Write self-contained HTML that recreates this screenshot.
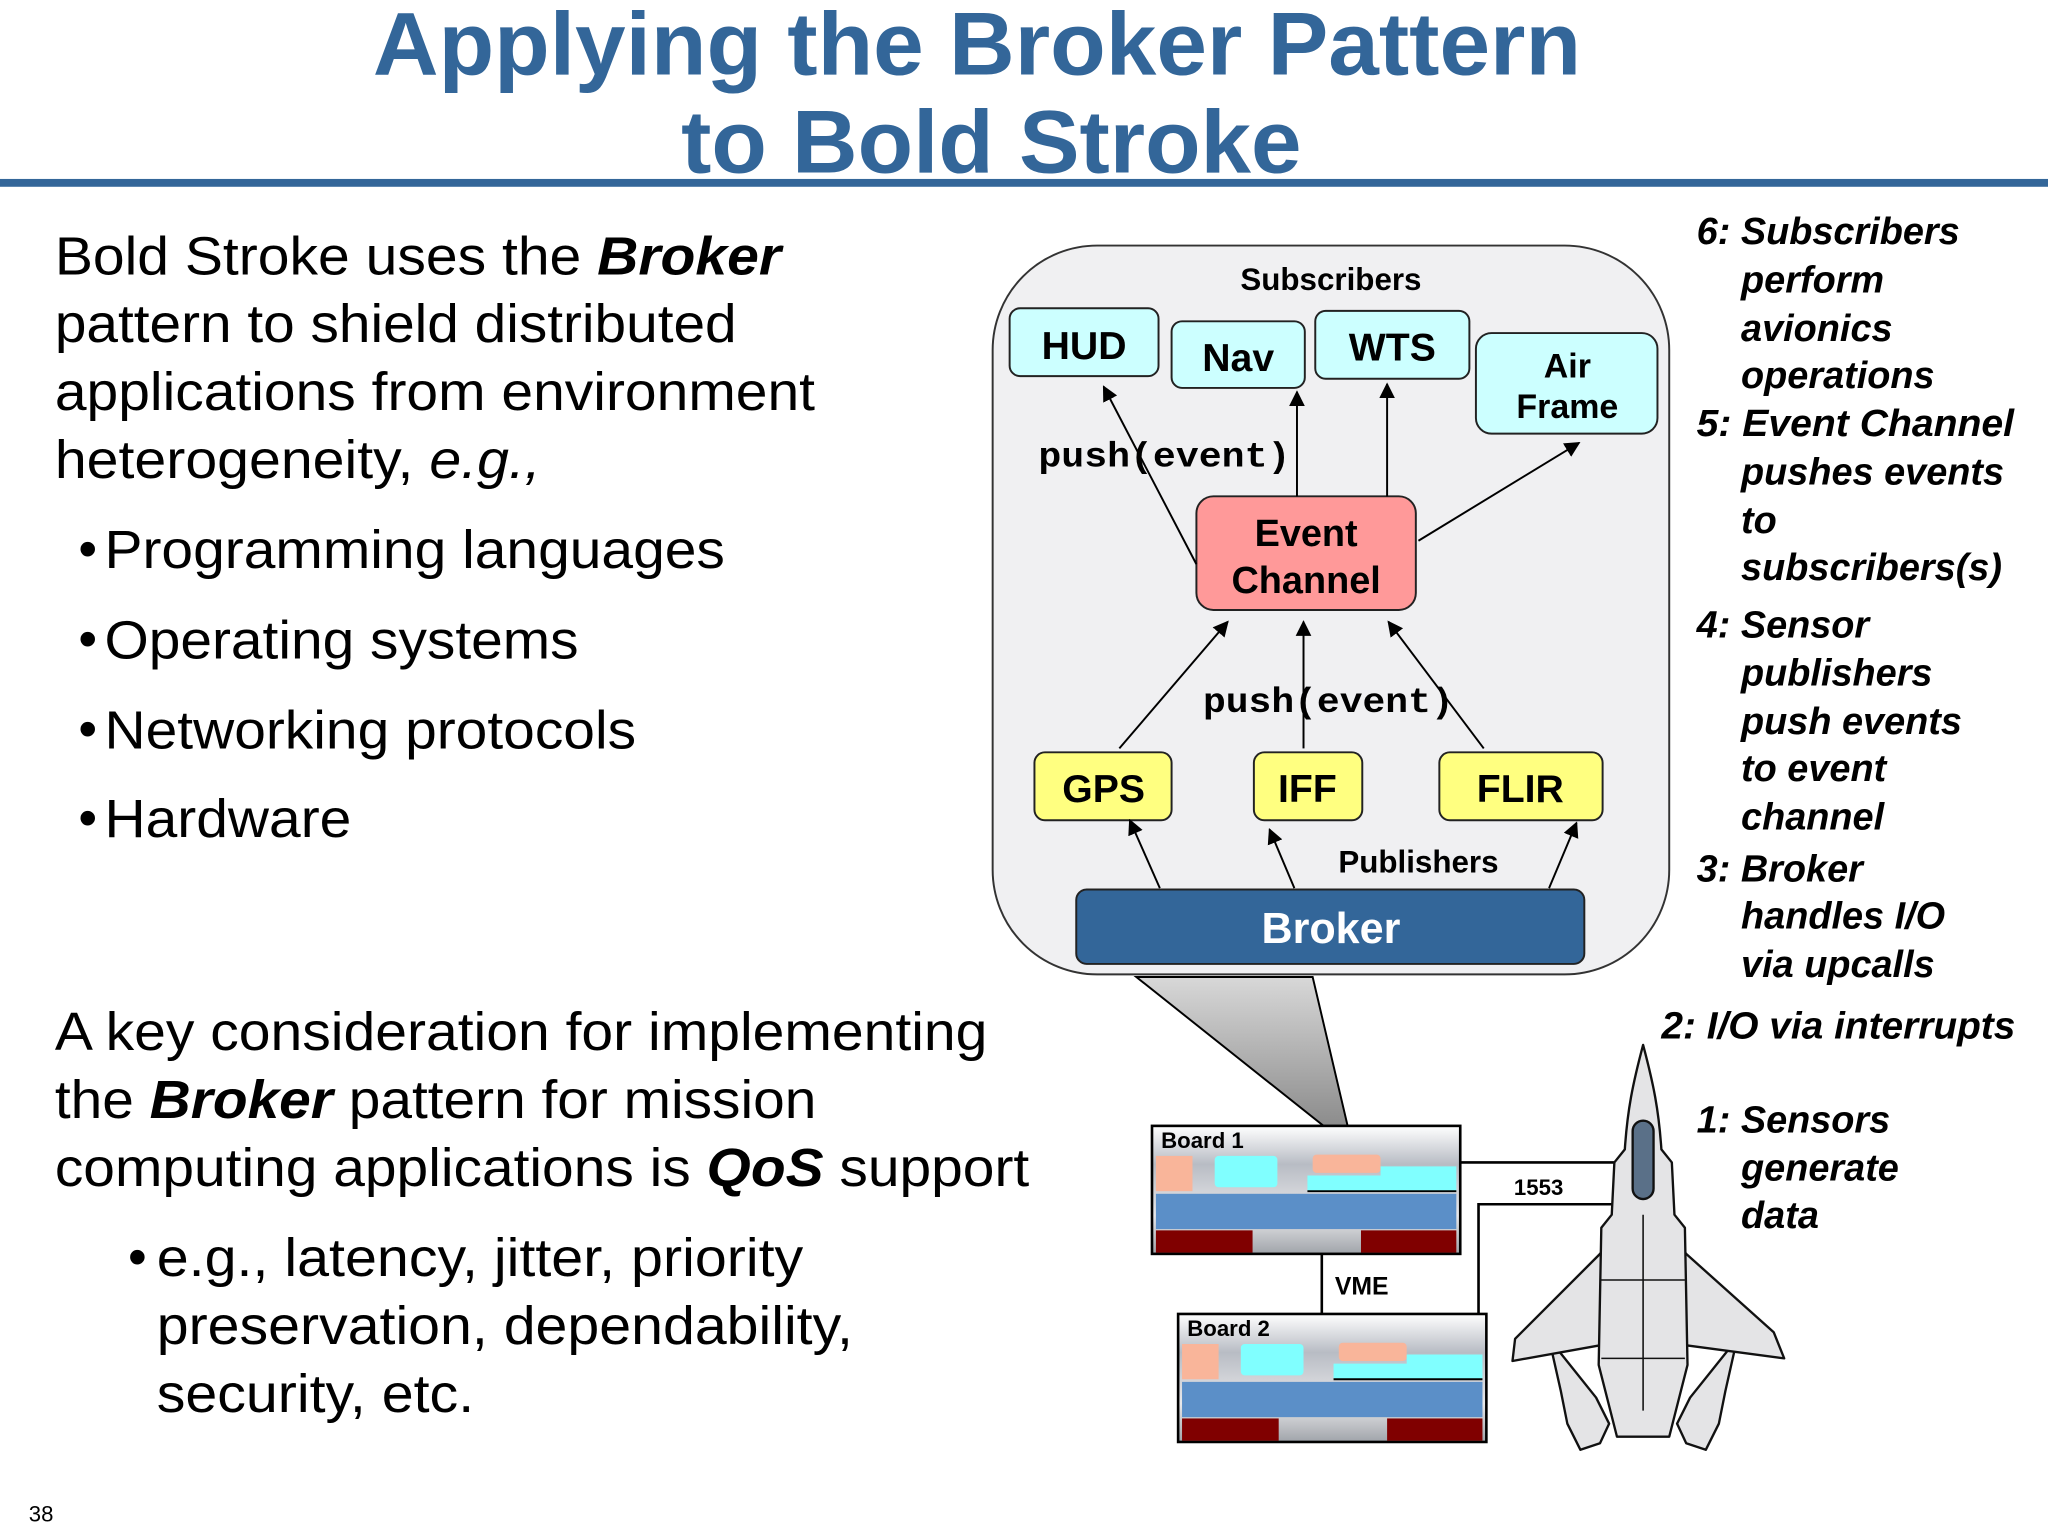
<!DOCTYPE html>
<html><head><meta charset="utf-8"><style>
html,body{margin:0;padding:0;background:#fff}
svg{display:block}
text{font-family:"Liberation Sans",Arial,sans-serif}
.m{font-family:"Liberation Mono","Courier New",monospace;font-weight:bold}
</style></head><body>
<svg width="2048" height="1536" viewBox="0 0 1568 1176" xmlns="http://www.w3.org/2000/svg">
<defs>
<marker id="a" viewBox="0 0 10 10" refX="9" refY="5" markerWidth="12" markerHeight="12" orient="auto-start-reverse" markerUnits="userSpaceOnUse"><path d="M0,0 L10,5 L0,10 z" fill="#000"/></marker>
<linearGradient id="tri" x1="0" y1="0" x2="0" y2="1"><stop offset="0" stop-color="#d8d8d8"/><stop offset="1" stop-color="#808080"/></linearGradient>
<linearGradient id="brd" x1="0" y1="0" x2="0" y2="1"><stop offset="0" stop-color="#ffffff"/><stop offset="0.3" stop-color="#b8bcc4"/><stop offset="0.7" stop-color="#e8e8ea"/><stop offset="1" stop-color="#a0a4aa"/></linearGradient>
</defs>
<rect width="1568" height="1176" fill="#fff"/>
<g fill="#336699" font-weight="bold" font-size="68" text-anchor="middle">
<text x="748" y="57" textLength="925" lengthAdjust="spacingAndGlyphs">Applying the Broker Pattern</text>
<text x="759" y="132" textLength="475" lengthAdjust="spacingAndGlyphs">to Bold Stroke</text>
</g>
<rect x="0" y="137" width="1568" height="6" fill="#336699"/>
<g font-size="41" fill="#000">
<text x="42" y="210" textLength="556" lengthAdjust="spacingAndGlyphs">Bold Stroke uses the <tspan font-weight="bold" font-style="italic">Broker</tspan></text>
<text x="42" y="262" textLength="522" lengthAdjust="spacingAndGlyphs">pattern to shield distributed</text>
<text x="42" y="314" textLength="582" lengthAdjust="spacingAndGlyphs">applications from environment</text>
<text x="42" y="366" textLength="372" lengthAdjust="spacingAndGlyphs">heterogeneity, <tspan font-style="italic">e.g.,</tspan></text>
<text x="60" y="434">•</text><text x="80" y="435" textLength="475" lengthAdjust="spacingAndGlyphs">Programming languages</text>
<text x="60" y="503">•</text><text x="80" y="504" textLength="363" lengthAdjust="spacingAndGlyphs">Operating systems</text>
<text x="60" y="572">•</text><text x="80" y="573" textLength="407" lengthAdjust="spacingAndGlyphs">Networking protocols</text>
<text x="60" y="640">•</text><text x="80" y="641" textLength="189" lengthAdjust="spacingAndGlyphs">Hardware</text>
<text x="42" y="804" textLength="714" lengthAdjust="spacingAndGlyphs">A key consideration for implementing</text>
<text x="42" y="856" textLength="583" lengthAdjust="spacingAndGlyphs">the <tspan font-weight="bold" font-style="italic">Broker</tspan> pattern for mission</text>
<text x="42" y="908" textLength="746" lengthAdjust="spacingAndGlyphs">computing applications is <tspan font-weight="bold" font-style="italic">QoS</tspan> support</text>
<text x="98" y="976">•</text><text x="120" y="977" textLength="495" lengthAdjust="spacingAndGlyphs">e.g., latency, jitter, priority</text>
<text x="120" y="1029" textLength="533" lengthAdjust="spacingAndGlyphs">preservation, dependability,</text>
<text x="120" y="1081" textLength="243" lengthAdjust="spacingAndGlyphs">security, etc.</text>
</g>
<text x="22" y="1165" font-size="17">38</text>
<g font-size="29" font-weight="bold" font-style="italic" fill="#000">
<text x="1299" y="187">6: Subscribers</text>
<text x="1333" y="224">perform</text>
<text x="1333" y="261">avionics</text>
<text x="1333" y="297">operations</text>
<text x="1299" y="334" textLength="243" lengthAdjust="spacingAndGlyphs">5: Event Channel</text>
<text x="1333" y="371">pushes events</text>
<text x="1333" y="408">to</text>
<text x="1333" y="444">subscribers(s)</text>
<text x="1299" y="488">4: Sensor</text>
<text x="1333" y="525">publishers</text>
<text x="1333" y="562">push events</text>
<text x="1333" y="598">to event</text>
<text x="1333" y="635">channel</text>
<text x="1299" y="675">3: Broker</text>
<text x="1333" y="711">handles I/O</text>
<text x="1333" y="748">via upcalls</text>
<text x="1272" y="795" textLength="271" lengthAdjust="spacingAndGlyphs">2: I/O via interrupts</text>
<text x="1299" y="867">1: Sensors</text>
<text x="1333" y="904">generate</text>
<text x="1333" y="940">data</text>
</g>
<polygon points="870,748 1005,748 1036,880" fill="url(#tri)" stroke="#000" stroke-width="1.5"/>
<rect x="760" y="188" width="518" height="558" rx="80" fill="#f0f0f2" stroke="#333" stroke-width="1.5"/>
<g font-weight="bold" fill="#000" text-anchor="middle">
<text x="1019" y="222" font-size="24">Subscribers</text>
<text x="1086" y="668" font-size="24">Publishers</text>
</g>
<g fill="#ccffff" stroke="#222" stroke-width="1.5">
<rect x="773" y="236" width="114" height="52" rx="8"/>
<rect x="897" y="246" width="102" height="51" rx="8"/>
<rect x="1007" y="238" width="118" height="52" rx="8"/>
<rect x="1130" y="255" width="139" height="77" rx="12"/>
</g>
<rect x="916" y="380" width="168" height="87" rx="13" fill="#ff9999" stroke="#222" stroke-width="1.5"/>
<g fill="#ffff80" stroke="#222" stroke-width="1.5">
<rect x="792" y="576" width="105" height="52" rx="8"/>
<rect x="960" y="576" width="83" height="52" rx="8"/>
<rect x="1102" y="576" width="125" height="52" rx="8"/>
</g>
<rect x="824" y="681" width="389" height="57" rx="8" fill="#336699" stroke="#222" stroke-width="1.5"/>
<g font-weight="bold" fill="#000" text-anchor="middle" font-size="30">
<text x="830" y="275">HUD</text>
<text x="948" y="284">Nav</text>
<text x="1066" y="276">WTS</text>
<text x="1200" y="289" font-size="26">Air</text>
<text x="1200" y="320" font-size="26">Frame</text>
<text x="1000" y="418" font-size="29">Event</text>
<text x="1000" y="454" font-size="29">Channel</text>
<text x="845" y="614">GPS</text>
<text x="1001" y="614">IFF</text>
<text x="1164" y="614">FLIR</text>
<text x="1019" y="722" fill="#fff" font-size="33">Broker</text>
</g>
<g stroke="#000" stroke-width="1.5" marker-end="url(#a)">
<line x1="916" y1="432" x2="845" y2="296"/>
<line x1="993" y1="380" x2="993" y2="300"/>
<line x1="1062" y1="380" x2="1062" y2="294"/>
<line x1="1086" y1="414" x2="1209" y2="339"/>
<line x1="857" y1="573" x2="940" y2="476"/>
<line x1="998" y1="573" x2="998" y2="476"/>
<line x1="1136" y1="573" x2="1063" y2="476"/>
<line x1="888" y1="680" x2="865" y2="628"/>
<line x1="991" y1="680" x2="972" y2="635"/>
<line x1="1186" y1="680" x2="1207" y2="630"/>
</g>
<g font-size="27" fill="#000">
<text x="795" y="357" class="m" textLength="193" lengthAdjust="spacingAndGlyphs">push(event)</text>
<text x="921" y="545" class="m" textLength="192" lengthAdjust="spacingAndGlyphs">push(event)</text>
</g>
<g stroke="#000" stroke-width="2" fill="none">
<polyline points="1118,890 1256,890"/>
<polyline points="1132,1006 1132,922 1262,922"/>
<line x1="1012" y1="960" x2="1012" y2="1006"/>
</g>
<text x="1178" y="915" font-size="17" font-weight="bold" text-anchor="middle">1553</text>
<text x="1022" y="991" font-size="19" font-weight="bold">VME</text>
<g>
<rect x="882" y="862" width="236" height="98" fill="url(#brd)" stroke="#000" stroke-width="2"/>
<rect x="885" y="885" width="28" height="27" fill="#f9b59a"/>
<rect x="930" y="885" width="48" height="24" rx="3" fill="#80ffff"/>
<rect x="1005" y="884" width="52" height="14" rx="3" fill="#f9b59a"/>
<path d="M1001,912 L1001,900 L1057,900 L1057,893 L1115,893 L1115,912 Z" fill="#80ffff"/>
<line x1="1001" y1="912" x2="1115" y2="912" stroke="#000" stroke-width="1.5"/>
<rect x="885" y="914" width="230" height="27" fill="#5b8fc8"/>
<rect x="885" y="942" width="74" height="17" fill="#800000"/>
<rect x="1042" y="942" width="73" height="17" fill="#800000"/>
<text x="889" y="879" font-size="17" font-weight="bold">Board 1</text>
</g>
<g transform="translate(20,144)">
<rect x="882" y="862" width="236" height="98" fill="url(#brd)" stroke="#000" stroke-width="2"/>
<rect x="885" y="885" width="28" height="27" fill="#f9b59a"/>
<rect x="930" y="885" width="48" height="24" rx="3" fill="#80ffff"/>
<rect x="1005" y="884" width="52" height="14" rx="3" fill="#f9b59a"/>
<path d="M1001,912 L1001,900 L1057,900 L1057,893 L1115,893 L1115,912 Z" fill="#80ffff"/>
<line x1="1001" y1="912" x2="1115" y2="912" stroke="#000" stroke-width="1.5"/>
<rect x="885" y="914" width="230" height="27" fill="#5b8fc8"/>
<rect x="885" y="942" width="74" height="17" fill="#800000"/>
<rect x="1042" y="942" width="73" height="17" fill="#800000"/>
<text x="889" y="879" font-size="17" font-weight="bold">Board 2</text>
</g>
<g fill="#e4e4e6" stroke="#111" stroke-width="1.8" stroke-linejoin="round">
<polygon points="1186,1025 1222,1070 1232,1090 1225,1105 1210,1110 1200,1090 1195,1065"/>
<polygon points="1330,1025 1294,1070 1284,1090 1291,1105 1306,1110 1316,1090 1321,1065"/>
<polygon points="1235,945 1225,960 1160,1025 1158,1042 1225,1030 1240,1025"/>
<polygon points="1281,945 1291,960 1358,1020 1366,1040 1291,1030 1276,1025"/>
<path d="M1258,800 C1266,830 1270,850 1272,880 L1280,890 L1282,930 L1290,940 L1292,1045 L1278,1100 L1238,1100 L1224,1045 L1226,940 L1234,930 L1236,890 L1244,880 C1246,850 1250,830 1258,800 Z"/>
<rect x="1250" y="858" width="16" height="60" rx="8" fill="#5a7088"/>
<line x1="1258" y1="930" x2="1258" y2="1080" stroke-width="1.2"/>
<line x1="1226" y1="980" x2="1290" y2="980" stroke-width="1.2"/>
<line x1="1226" y1="1040" x2="1290" y2="1040" stroke-width="1.2"/>
</g>
</svg>
</body></html>
